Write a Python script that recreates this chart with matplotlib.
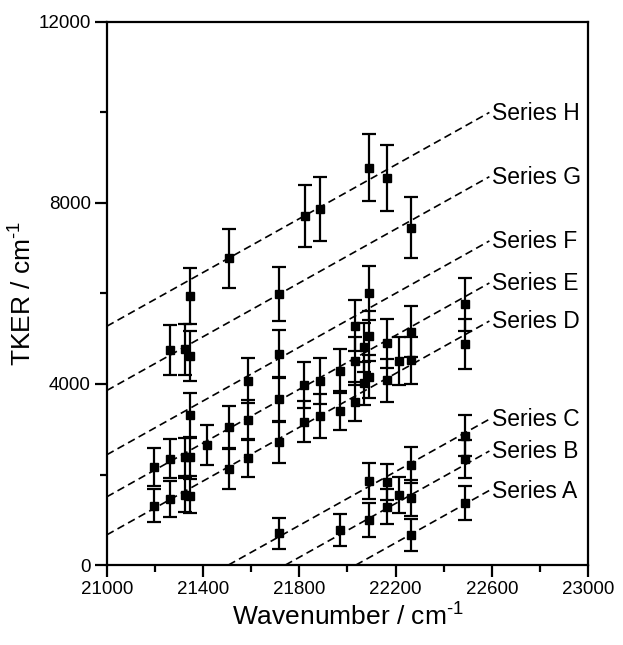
import matplotlib
matplotlib.use("Agg")
import matplotlib.pyplot as plt
import numpy as np

# measured points (wavenumber / cm-1, TKER / cm-1, error)
h_x = [21347, 21508, 21822, 21884, 22089, 22165]
h_y = [5945, 6777, 7713, 7860, 8780, 8545]
h_err = [610, 645, 685, 705, 736, 729]

g_x = [21264, 21326, 21346, 21714, 22264]
g_y = [4751, 4766, 4619, 5989, 7454]
g_err = [552, 560, 550, 604, 678]

f_x = [21346, 21586, 21715, 22030, 22089]
f_y = [3315, 4074, 4655, 5282, 6004]
f_err = [479, 494, 530, 563, 600]

e_x = [21195, 21264, 21326, 21346, 21415, 21508, 21586, 21715, 21819,
       21884, 21969, 22030, 22067, 22089, 22164, 22264, 22490]
e_y = [2173, 2343, 2380, 2380, 2645, 3050, 3204, 3662, 3978,
       4066, 4287, 4508, 4811, 5061, 4899, 5156, 5761]
e_err = [420, 431, 420, 420, 446, 468, 450, 486, 500,
         508, 497, 525, 540, 550, 545, 560, 589]

d_x = [21195, 21264, 21326, 21346, 21508, 21586, 21715, 21819, 21884,
       21969, 22030, 22067, 22089, 22164, 22213, 22264, 22490]
d_y = [1311, 1459, 1547, 1525, 2129, 2357, 2711, 3167, 3293,
       3410, 3609, 4015, 4162, 4088, 4508, 4524, 4877]
d_err = [368, 405, 380, 380, 442, 420, 453, 450, 479,
         431, 431, 470, 480, 475, 535, 525, 552]

c_x = [21715, 22089, 22164, 22264, 22490]
c_y = [700, 1863, 1841, 2210, 2858]
c_err = [339, 398, 398, 394, 457]

b_x = [21969, 22089, 22164, 22213, 22264, 22490]
b_y = [773, 994, 1289, 1547, 1473, 2343]
b_err = [359, 368, 387, 387, 398, 420]

a_x = [22264, 22490]
a_y = [663, 1377]
a_err = [359, 376]

# dashed guide lines: TKER = slope * (wavenumber - onset)
series_names = ["Series A", "Series B", "Series C", "Series D",
                "Series E", "Series F", "Series G", "Series H"]
line_onsets = [22035, 21742, 21505, 20775, 20492, 20179, 19701, 19223]
line_slope = 2.97
line_end = 22590

plt.rcParams["font.family"] = ["Liberation Sans", "DejaVu Sans"]
plt.rcParams["mathtext.fontset"] = "custom"
plt.rcParams["mathtext.rm"] = "Liberation Sans"
plt.rcParams["lines.scale_dashes"] = False

fig = plt.figure(figsize=(6.23, 6.45), dpi=100)
ax = fig.add_axes([0.1717, 0.124, 0.7721, 0.842])

for name, onset in zip(series_names, line_onsets):
    x0 = max(21000, onset)
    xs = np.array([x0, line_end])
    ys = line_slope * (xs - onset)
    ax.plot(xs, ys, color="black", lw=1.2, ls=(0, (5.5, 3.2)), zorder=1)
    ax.text(line_end + 12, ys[-1] + 40, name, fontsize=16.5, ha="left",
            va="center_baseline")

for xs, ys, es in [(h_x, h_y, h_err), (g_x, g_y, g_err), (f_x, f_y, f_err),
                   (e_x, e_y, e_err), (d_x, d_y, d_err), (c_x, c_y, c_err),
                   (b_x, b_y, b_err), (a_x, a_y, a_err)]:
    ax.errorbar(xs, ys, yerr=es, fmt="s", color="black", ms=5.8,
                elinewidth=1.6, capsize=5.2, capthick=1.6, zorder=3)

ax.set_xlim(21000, 23000)
ax.set_ylim(0, 12000)
ax.set_xticks(np.arange(21000, 23001, 400))
ax.set_xticks(np.arange(21200, 23000, 400), minor=True)
ax.set_yticks([0, 4000, 8000, 12000])
ax.set_yticks([2000, 6000, 10000], minor=True)
ax.tick_params(which="major", direction="out", length=8.5, width=1.6,
               labelsize=13.5, pad=3, top=False, right=False)
ax.tick_params(which="minor", direction="out", length=5, width=1.6,
               top=False, right=False)
for sp in ax.spines.values():
    sp.set_linewidth(1.6)

ax.set_xlabel("Wavenumber / cm$^{\\text{-1}}$", fontsize=19, labelpad=3)
ax.set_ylabel("TKER / cm$^{\\text{-1}}$", fontsize=19, labelpad=2)

fig.savefig("out.png", dpi=100)
